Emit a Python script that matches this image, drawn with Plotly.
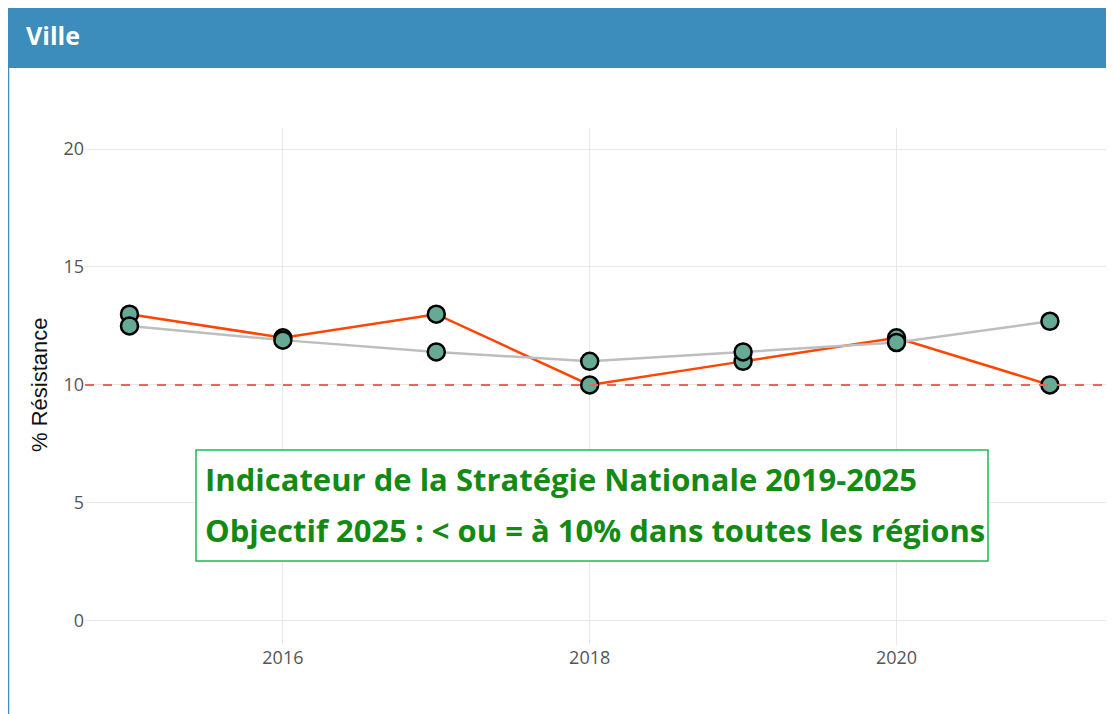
import plotly.graph_objects as go

# Données
annees = [2015, 2016, 2017, 2018, 2019, 2020, 2021]
ville = [13.0, 12.0, 13.0, 10.0, 11.0, 12.0, 10.0]
reference = [12.5, 11.9, 11.4, 11.0, 11.4, 11.8, 12.7]
objectif = 10
y_ticks = [0, 5, 10, 15, 20]
x_ticks = [2016, 2018, 2020]

W, H = 1114, 714
OFF = 8  # marge du <body> de la page html
L, R, T, B = 77, 0, 120, 77


def px(x):
    # position écran -> coordonnée paper
    return (x - OFF - L) / (W - L - R)


def py(y):
    return (H - B - (y - OFF)) / (H - T - B)


marker_style = dict(size=17, color='#66a995', line=dict(color='black', width=2.5))

fig = go.Figure()
fig.add_trace(go.Scatter(
    x=annees, y=ville, mode='lines+markers',
    line=dict(color='#ff4500', width=2.5),
    marker=marker_style, name='Ville', showlegend=False,
))
fig.add_trace(go.Scatter(
    x=annees, y=reference, mode='lines+markers',
    line=dict(color='#bebebe', width=2.5),
    marker=marker_style, name='Référence', showlegend=False,
))

shapes = [
    # bordure gauche de la boîte
    dict(type='line', xref='paper', yref='paper', x0=px(8.5), x1=px(8.5), y0=py(8), y1=py(H + OFF),
         line=dict(color='#3c8dbc', width=1.5)),
    # en-tête
    dict(type='rect', xref='paper', yref='paper', x0=px(8), x1=px(W + OFF), y0=py(OFF), y1=py(68),
         fillcolor='#3c8dbc', line=dict(width=0)),
    # objectif 10 %
    dict(type='line', xref='paper', yref='y', x0=0, x1=1, y0=objectif, y1=objectif,
         line=dict(color='#f06262', width=2, dash='dash'), layer='above'),
    # cadre de l'indicateur
    dict(type='rect', xref='paper', yref='paper', x0=px(196), x1=px(988), y0=py(450), y1=py(561),
         fillcolor='white', line=dict(color='#1db954', width=1.5), layer='above'),
]

txt_font = dict(family='Open Sans', size=31, color='#138a13')
annotations = [
    dict(xref='paper', yref='paper', x=px(24), y=py(35), xanchor='left', yanchor='middle',
         text='<b>Ville</b>', showarrow=False,
         font=dict(family='Open Sans', size=25, color='white')),
    dict(xref='paper', yref='paper', x=px(203), y=py(479), xanchor='left', yanchor='middle',
         text='<b>Indicateur de la Stratégie Nationale 2019-2025</b>',
         showarrow=False, font=txt_font),
    dict(xref='paper', yref='paper', x=px(203), y=py(530), xanchor='left', yanchor='middle',
         text='<b>Objectif 2025 : &lt; ou = à 10% dans toutes les régions</b>',
         showarrow=False, font=txt_font),
    dict(xref='paper', yref='paper', x=px(39), y=py(385), xanchor='center', yanchor='middle',
         text='% Résistance', textangle=-90, showarrow=False,
         font=dict(family='Liberation Sans, Arial', size=22, color='#111')),
]

fig.update_layout(
    width=W, height=H,
    margin=dict(l=L, r=R, t=T, b=B),
    paper_bgcolor='white', plot_bgcolor='white',
    font=dict(family='Open Sans', color='#444'),
    shapes=shapes, annotations=annotations,
    xaxis=dict(range=[2014.71, 2021.47], tickvals=x_ticks, showgrid=True,
               gridcolor='#e8e8e8', zeroline=False, tickfont=dict(size=18, color='#555'),
               showline=False),
    yaxis=dict(range=[-1.02, 20.89], tickvals=y_ticks, showgrid=True,
               gridcolor='#e8e8e8', zeroline=False, tickfont=dict(size=18, color='#555')),
)

fig.write_html('out.html')
